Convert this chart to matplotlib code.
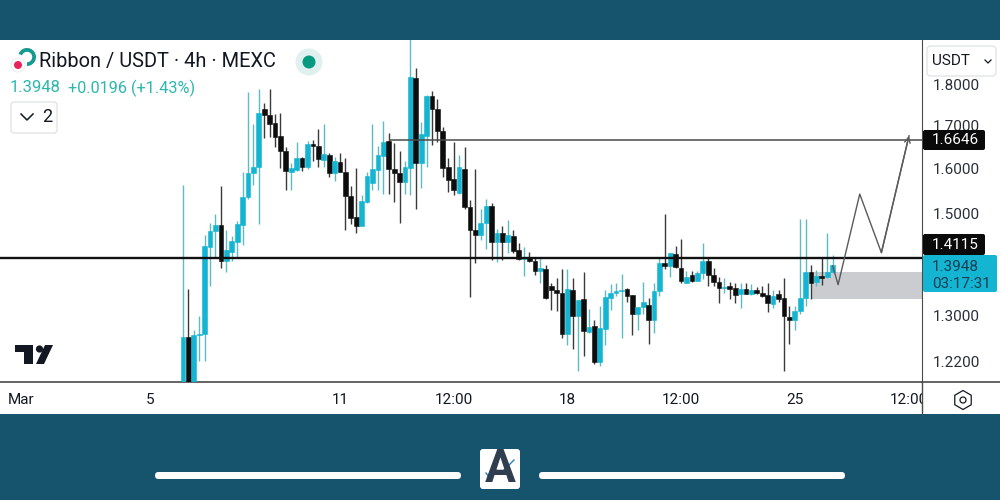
import numpy as np
import matplotlib
matplotlib.use('Agg')
import matplotlib.pyplot as plt
from matplotlib.patches import Rectangle, FancyBboxPatch, Circle, Polygon, RegularPolygon, Wedge

plt.rcParams['font.family'] = ['Roboto', 'DejaVu Sans']

# precios, velas de 4h
opens = [1.16, 1.259, 1.17, 1.263, 1.265, 1.430, 1.464, 1.476, 1.403, 1.421,
         1.441, 1.476, 1.535, 1.588, 1.602, 1.740, 1.725, 1.705, 1.675, 1.640,
         1.591, 1.596, 1.623, 1.602, 1.655, 1.651, 1.619, 1.631, 1.588, 1.614,
         1.591, 1.537, 1.492, 1.474, 1.524, 1.566, 1.596, 1.628, 1.663, 1.597,
         1.588, 1.568, 1.601, 1.817, 1.611, 1.675, 1.772, 1.740, 1.686, 1.603,
         1.576, 1.545, 1.597, 1.513, 1.466, 1.456, 1.481, 1.516, 1.441, 1.459,
         1.441, 1.453, 1.425, 1.406, 1.408, 1.402, 1.383, 1.386, 1.354, 1.346,
         1.341, 1.265, 1.346, 1.298, 1.328, 1.268, 1.279, 1.215, 1.274, 1.331,
         1.340, 1.344, 1.348, 1.336, 1.300, 1.314, 1.318, 1.289, 1.344, 1.398,
         1.393, 1.417, 1.389, 1.360, 1.375, 1.364, 1.379, 1.402, 1.375, 1.362,
         1.350, 1.354, 1.350, 1.339, 1.348, 1.338, 1.345, 1.340, 1.336, 1.319,
         1.338, 1.331, 1.296, 1.289, 1.307, 1.331, 1.381, 1.362, 1.373, 1.371,
         1.381]
closes = [1.259, 1.17, 1.263, 1.265, 1.432, 1.464, 1.475, 1.403, 1.425, 1.442,
          1.477, 1.535, 1.588, 1.602, 1.729, 1.725, 1.703, 1.673, 1.640, 1.594,
          1.599, 1.624, 1.602, 1.656, 1.651, 1.620, 1.632, 1.588, 1.617, 1.591,
          1.537, 1.490, 1.474, 1.526, 1.581, 1.597, 1.629, 1.660, 1.598, 1.588,
          1.568, 1.602, 1.820, 1.611, 1.680, 1.773, 1.739, 1.686, 1.600, 1.573,
          1.550, 1.603, 1.513, 1.466, 1.456, 1.481, 1.517, 1.440, 1.459, 1.440,
          1.455, 1.423, 1.406, 1.410, 1.402, 1.383, 1.388, 1.331, 1.346, 1.340,
          1.265, 1.348, 1.298, 1.326, 1.270, 1.277, 1.215, 1.275, 1.333, 1.341,
          1.344, 1.346, 1.335, 1.300, 1.314, 1.324, 1.289, 1.343, 1.398, 1.393,
          1.418, 1.390, 1.364, 1.371, 1.364, 1.379, 1.403, 1.375, 1.362, 1.350,
          1.351, 1.348, 1.337, 1.348, 1.339, 1.346, 1.341, 1.335, 1.322, 1.335,
          1.328, 1.298, 1.290, 1.307, 1.331, 1.381, 1.360, 1.372, 1.369, 1.381,
          1.3948]
highs = [1.561, 1.348, 1.272, 1.298, 1.456, 1.480, 1.499, 1.560, 1.466, 1.452,
         1.485, 1.590, 1.781, 1.703, 1.789, 1.754, 1.789, 1.728, 1.731, 1.649,
         1.611, 1.661, 1.625, 1.663, 1.665, 1.690, 1.703, 1.635, 1.626, 1.634,
         1.622, 1.560, 1.600, 1.540, 1.591, 1.703, 1.651, 1.711, 1.681, 1.657,
         1.640, 1.615, 1.946, 1.843, 1.707, 1.775, 1.785, 1.764, 1.697, 1.622,
         1.661, 1.630, 1.649, 1.529, 1.597, 1.509, 1.532, 1.523, 1.467, 1.474,
         1.487, 1.466, 1.438, 1.430, 1.421, 1.411, 1.411, 1.394, 1.360, 1.368,
         1.386, 1.386, 1.368, 1.326, 1.381, 1.310, 1.290, 1.316, 1.346, 1.358,
         1.360, 1.376, 1.350, 1.336, 1.314, 1.362, 1.331, 1.360, 1.411, 1.499,
         1.419, 1.432, 1.446, 1.382, 1.382, 1.383, 1.438, 1.411, 1.388, 1.371,
         1.368, 1.362, 1.359, 1.359, 1.360, 1.358, 1.352, 1.353, 1.359, 1.345,
         1.345, 1.368, 1.316, 1.315, 1.489, 1.489, 1.394, 1.384, 1.408, 1.460,
         1.415]
lows = [1.15, 1.15, 1.15, 1.217, 1.217, 1.353, 1.408, 1.388, 1.381, 1.402,
        1.408, 1.435, 1.531, 1.562, 1.478, 1.669, 1.673, 1.648, 1.601, 1.550,
        1.550, 1.594, 1.594, 1.597, 1.615, 1.602, 1.602, 1.579, 1.571, 1.590,
        1.466, 1.477, 1.459, 1.473, 1.523, 1.550, 1.551, 1.542, 1.542, 1.524,
        1.480, 1.542, 1.540, 1.509, 1.555, 1.602, 1.653, 1.661, 1.579, 1.547,
        1.540, 1.542, 1.509, 1.332, 1.398, 1.445, 1.426, 1.405, 1.400, 1.405,
        1.418, 1.418, 1.405, 1.373, 1.400, 1.374, 1.359, 1.329, 1.308, 1.307,
        1.258, 1.245, 1.237, 1.199, 1.225, 1.266, 1.212, 1.208, 1.244, 1.309,
        1.335, 1.258, 1.324, 1.262, 1.272, 1.300, 1.247, 1.266, 1.335, 1.386,
        1.370, 1.389, 1.360, 1.359, 1.362, 1.363, 1.367, 1.354, 1.353, 1.322,
        1.341, 1.328, 1.322, 1.311, 1.338, 1.336, 1.338, 1.332, 1.305, 1.312,
        1.324, 1.199, 1.247, 1.272, 1.300, 1.316, 1.328, 1.354, 1.355, 1.369,
        1.379]

# la escala leida queda un poco corta abajo, por eso 1.2977 y 1.216
price_ticks = [1.216, 1.2977, 1.5, 1.6, 1.7, 1.8]
price_labels = ['1.2200', '1.3000', '1.5000', '1.6000', '1.7000', '1.8000']
time_ticks = [-30, -6, 29, 50, 71, 92, 113, 134]
time_labels = ['Mar', '5', '11', '12:00', '18', '12:00', '25', '12:00']

target_level = 1.6646
support_level = 1.4085
zone_low = 1.329
zone_high = 1.381
zone_start = 116
target_start = 38
path_x = [120, 121, 125, 129, 134.1]
path_y = [1.393, 1.356, 1.542, 1.419, 1.675]

TEAL = '#14b5d3'
WICK_TEAL = '#5cbcc4'
NEGRO = '#0d0d0d'
WICK_NEGRO = '#3a3a3a'
FONDO = '#16546d'
LINEA = '#4a4a4a'
TAM_EJE = 11

fig = plt.figure(figsize=(10, 5), dpi=100, facecolor='white')
ax = fig.add_axes([0, 118 / 500, 0.922, 342 / 500], zorder=1)
ax.set_yscale('log')

x = np.arange(len(opens))
o = np.array(opens)
c = np.array(closes)
subida = c >= o
color_cuerpo = [TEAL if s else NEGRO for s in subida]
color_mecha = [WICK_TEAL if s else WICK_NEGRO for s in subida]

ax.vlines(x, lows, highs, colors=color_mecha, linewidth=1.0, zorder=2)
ax.bar(x, np.abs(c - o), bottom=np.minimum(o, c), width=0.88, color=color_cuerpo,
       edgecolor=color_cuerpo, linewidth=0.4, zorder=3)

ax.hlines(target_level, target_start, 200, color=LINEA, linewidth=1.1, zorder=4)
ax.axhline(support_level, color='#111111', linewidth=1.7, zorder=4)
ax.fill_between([zone_start, 200], zone_low, zone_high, color='#cbccd0', linewidth=0, zorder=1)
ax.plot(path_x, path_y, color='#5a5a5a', linewidth=1.0, zorder=5)
ax.annotate('', xy=(path_x[-1], path_y[-1]), xytext=(path_x[-2], path_y[-2]),
            arrowprops=dict(arrowstyle='->', color='#5a5a5a', lw=1.0, mutation_scale=10,
                            shrinkA=0, shrinkB=0), zorder=5)

ax.set_xlim(-33.8, 136.5)
ax.set_ylim(1.1812, 1.9186)
ax.set_yticks(price_ticks, labels=price_labels)
ax.minorticks_off()
ax.yaxis.tick_right()
ax.set_xticks(time_ticks, labels=time_labels)
ax.tick_params(axis='y', length=0, pad=7.5, labelsize=TAM_EJE, labelcolor='#2a2e39')
ax.tick_params(axis='x', length=0, pad=8, labelsize=TAM_EJE, labelcolor='#131722')
for lado in ['top', 'left']:
    ax.spines[lado].set_visible(False)
ax.spines['right'].set_color(LINEA)
ax.spines['bottom'].set_color(LINEA)
ax.spines['bottom'].set_linewidth(1.2)

# todo lo demas va encima, en pixeles de la captura
ov = fig.add_axes([0, 0, 1, 1], zorder=2)
ov.set_xlim(0, 1000)
ov.set_ylim(500, 0)
ov.axis('off')
ov.patch.set_alpha(0)

ov.add_patch(Rectangle((0, 0), 1000, 40, color=FONDO, linewidth=0))
ov.add_patch(Rectangle((0, 414), 1000, 86, color=FONDO, linewidth=0))
ov.add_patch(Rectangle((923, 383), 77, 31, color='white', linewidth=0))
ov.plot([922, 922], [382, 414], color=LINEA, linewidth=1.0)
ov.plot([922, 1000], [382, 382], color=LINEA, linewidth=1.2)

# etiquetas de precio
ov.add_patch(FancyBboxPatch((923, 130), 62, 20, boxstyle='round,pad=0,rounding_size=2', color='#0a0a0a', linewidth=0))
ov.text(955.5, 140.5, '1.6646', color='white', fontsize=TAM_EJE, ha='center', va='center')
ov.add_patch(FancyBboxPatch((923, 234), 62, 21, boxstyle='round,pad=0,rounding_size=2', color='#0a0a0a', linewidth=0))
ov.text(955.5, 245, '1.4115', color='white', fontsize=TAM_EJE, ha='center', va='center')
ov.add_patch(FancyBboxPatch((923, 255), 74, 37, boxstyle='round,pad=0,rounding_size=2', color=TEAL, linewidth=0))
ov.text(955.5, 267, '1.3948', color='#123f52', fontsize=TAM_EJE, ha='center', va='center')
ov.text(961.5, 284, '03:17:31', color='#123f52', fontsize=TAM_EJE, ha='center', va='center')

# selector USDT
ov.add_patch(FancyBboxPatch((927, 46), 69, 30, boxstyle='round,pad=0,rounding_size=4', facecolor='white', edgecolor='#dcdee2', linewidth=0.8))
ov.text(951, 61, 'USDT', color='#131722', fontsize=11, ha='center', va='center')
ov.plot([985, 988, 991], [60, 63, 60], color='#131722', linewidth=0.9)

# cabecera
ov.add_patch(Wedge((27, 57), 9, 200, 90, width=3.8, color='#169a8f', linewidth=0))
ov.add_patch(Circle((18, 65), 7, facecolor='white', edgecolor='#e8e8ec', linewidth=0.6))
ov.add_patch(Circle((18, 65), 4, color='#e8245c', linewidth=0))
ov.text(39, 61.5, 'Ribbon / USDT · 4h · MEXC', color='#131722', fontsize=14.4, ha='left', va='center')
ov.add_patch(Circle((309, 62), 13.5, color='#e0f0ee', linewidth=0))
ov.add_patch(Circle((309, 62), 6.5, color='#089981', linewidth=0))
ov.text(10, 88, '1.3948', color='#2bb8ac', fontsize=12, ha='left', va='center')
ov.text(68, 88, '+0.0196 (+1.43%)', color='#2bb8ac', fontsize=11.7, ha='left', va='center')
ov.add_patch(FancyBboxPatch((11, 102), 46, 31, boxstyle='round,pad=0,rounding_size=3', facecolor='white', edgecolor='#dcdee2', linewidth=0.8))
ov.plot([21, 27, 33], [114, 120, 114], color='#131722', linewidth=1.1)
ov.text(47, 117.5, '2', color='#131722', fontsize=13, ha='center', va='center')

# logo de TradingView
ov.add_patch(Polygon([(15, 345), (33, 345), (33, 364), (24, 364), (24, 352), (15, 352)], color='#131722', linewidth=0))
ov.add_patch(Circle((39.5, 349), 3.6, color='#131722', linewidth=0))
ov.add_patch(Polygon([(45, 345), (53, 345), (44, 364), (36, 364)], color='#131722', linewidth=0))

# icono hexagono del eje
ov.add_patch(RegularPolygon((963, 400), 6, radius=9.5, facecolor='none', edgecolor='#131722', linewidth=0.9))
ov.add_patch(Circle((963, 400), 3, facecolor='none', edgecolor='#131722', linewidth=0.9))

# barras y logo inferior
ov.add_patch(FancyBboxPatch((155, 472), 306, 7, boxstyle='round,pad=0,rounding_size=3.5', color='white', linewidth=0))
ov.add_patch(FancyBboxPatch((539, 472), 306, 7, boxstyle='round,pad=0,rounding_size=3.5', color='white', linewidth=0))
ov.add_patch(FancyBboxPatch((480, 449), 40, 40, boxstyle='round,pad=0,rounding_size=3', color='white', linewidth=0))
ov.text(500, 469.5, 'A', color='#2f3f50', fontsize=33, fontweight='bold', ha='center', va='center')
ov.plot([486, 490, 496, 500, 506, 514], [473, 478, 470, 474, 468, 460], color='#2a7fc4', linewidth=1.0)

fig.savefig('out.png', dpi=100)
